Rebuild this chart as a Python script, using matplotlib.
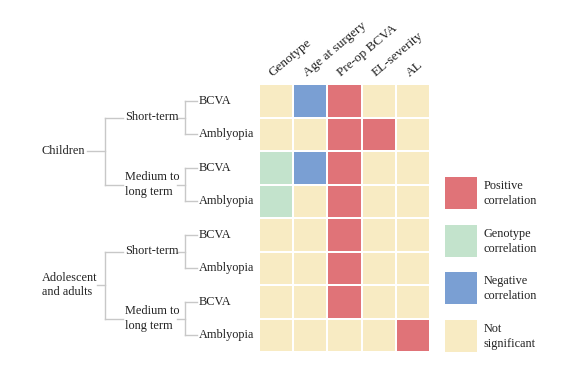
import numpy as np
import matplotlib
matplotlib.use("Agg")
import matplotlib.pyplot as plt
from matplotlib.colors import ListedColormap
from matplotlib.patches import Rectangle

# 0 = not significant, 1 = positive, 2 = genotype, 3 = negative
factors = ["Genotype", "Age at surgery", "Pre-op BCVA", "EL-severity", "AL"]
groups = ["Children", "Adolescent\nand adults"]
terms = ["Short-term", "Medium to\nlong term"]
outcomes = ["BCVA", "Amblyopia"]
codes = np.array([
    [0, 3, 1, 0, 0],
    [0, 0, 1, 1, 0],
    [2, 3, 1, 0, 0],
    [2, 0, 1, 0, 0],
    [0, 0, 1, 0, 0],
    [0, 0, 1, 0, 0],
    [0, 0, 1, 0, 0],
    [0, 0, 0, 0, 1],
])
legend_labels = ["Positive\ncorrelation", "Genotype\ncorrelation",
                 "Negative\ncorrelation", "Not\nsignificant"]
legend_codes = [1, 2, 3, 0]

colors = ["#f8ebc3", "#e07378", "#c3e3cc", "#7a9fd3"]
line_color = "#c8c8c8"
text_color = "#222222"
plt.rcParams["font.family"] = ["Liberation Serif", "DejaVu Serif"]
fs = 8.8

W, H = 569, 380
fig = plt.figure(figsize=(W / 100, H / 100), dpi=100)


def fax(x0, y0, x1, y1):
    ax = fig.add_axes([x0 / W, 1 - y1 / H, (x1 - x0) / W, (y1 - y0) / H])
    ax.set_axis_off()
    return ax


# heatmap
n_rows, n_cols = codes.shape
hm = fax(259, 84, 430, 352)
hm.pcolormesh(np.arange(n_cols + 1), np.arange(n_rows + 1), codes,
              cmap=ListedColormap(colors), vmin=-0.5, vmax=3.5,
              edgecolors="white", linewidth=1.2)
hm.set_xlim(0, n_cols)
hm.set_ylim(n_rows, 0)
for j, name in enumerate(factors):
    hm.text(j + 0.4, -0.22, name, rotation=40, rotation_mode="anchor",
            ha="left", va="baseline", fontsize=9.5, color=text_color)

# tree (x in pixels, y in rows)
tr = fax(0, 84, 259, 352)
tr.set_xlim(0, 259)
tr.set_ylim(n_rows, 0)
kw = dict(color=line_color, lw=1)
for g, gname in enumerate(groups):
    g_rows = []
    for t, tname in enumerate(terms):
        r0 = g * 4 + t * 2
        rows = [r0 + k + 0.5 for k in range(len(outcomes))]
        for r, oname in zip(rows, outcomes):
            tr.plot([185, 197], [r, r], **kw)
            tr.text(199, r, oname, ha="left", va="center", fontsize=fs, color=text_color)
        tr.plot([185, 185], [rows[0], rows[-1]], **kw)
        mid = np.mean(rows)
        tr.plot([177, 185], [mid, mid], **kw)
        tr.plot([105, 123], [mid, mid], **kw)
        tr.text(125, mid, tname, ha="left", va="center", fontsize=fs,
                color=text_color, linespacing=1.25)
        g_rows.append(mid)
    tr.plot([105, 105], [g_rows[0], g_rows[-1]], **kw)
    gmid = np.mean(g_rows)
    tr.plot([87 if g == 0 else 97, 105], [gmid, gmid], **kw)
    tr.text(42, gmid, gname, ha="left", va="center", fontsize=fs,
            color=text_color, linespacing=1.2)

# legend (pixel coordinates)
lg = fax(430, 160, 569, 370)
lg.set_xlim(430, 569)
lg.set_ylim(370, 160)
for i, (lab, c) in enumerate(zip(legend_labels, legend_codes)):
    y = 177 + i * 47.7
    lg.add_patch(Rectangle((445, y), 32, 32, facecolor=colors[c], edgecolor="none"))
    lg.text(484, y + 16.5, lab, ha="left", va="center", fontsize=fs,
            color=text_color, linespacing=1.35)

fig.savefig("out.png", dpi=100)
